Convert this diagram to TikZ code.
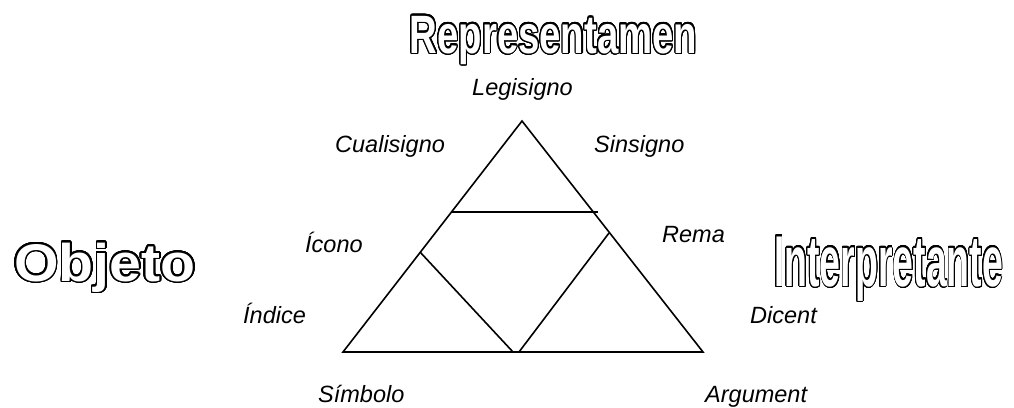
\documentclass[tikz,border=0pt]{standalone}
\usepackage{fontspec}
\setmainfont{Liberation Sans}
\usepackage{contour}
\contourlength{1.5pt}
\contournumber{32}
\tikzset{
  lab/.style={font=\fontsize{23.5}{28}\selectfont\itshape, anchor=base west, inner sep=0pt},
  ttl/.style={anchor=base west, inner sep=0pt},
  edge/.style={line width=1.6pt, line join=miter, line cap=butt}
}
\newcommand{\hollow}[3]{\scalebox{#2}[1]{\fontsize{#1}{#1}\selectfont\bfseries\contour{black}{\textcolor{white}{#3}}}}
\begin{document}
\begin{tikzpicture}[x=1pt,y=-1pt]
\useasboundingbox (0,0) rectangle (1014,407);
% triangle
\coordinate (A) at (522,121);
\coordinate (L) at (343,352);
\coordinate (R) at (703,352);
\coordinate (h1) at (451.5,212);
\coordinate (h2) at (598,212);
\coordinate (d1) at (420,252);
\coordinate (d1b) at (513,352);
\coordinate (d2) at (609,233);
\coordinate (d2b) at (519,352);
\draw[edge] (L) -- (A) -- (R) -- cycle;
\draw[edge] (h1) -- (h2);
\draw[edge] (d1) -- (d1b);
\draw[edge] (d2) -- (d2b);
% labels
\node[lab] (leg) at (472,95) {Legisigno};
\node[lab] (cua) at (335,152) {Cualisigno};
\node[lab] (sin) at (594,152) {Sinsigno};
\node[lab] (ico) at (305,252) {Ícono};
\node[lab] (rem) at (662,242) {Rema};
\node[lab] (ind) at (243,323) {Índice};
\node[lab] (dic) at (750,323) {Dicent};
\node[lab] (sim) at (318,402) {Símbolo};
\node[lab] (arg) at (705,402) {Argument};
% titles
\node[ttl] (rep) at (409.5,53) {\hollow{54}{0.71}{Representamen}};
\node[ttl] (obj) at (14,281) {\hollow{53}{1.08}{Objeto}};
\node[ttl] (int) at (774,286) {\hollow{72}{0.52}{Interpretante}};
\end{tikzpicture}
\end{document}
